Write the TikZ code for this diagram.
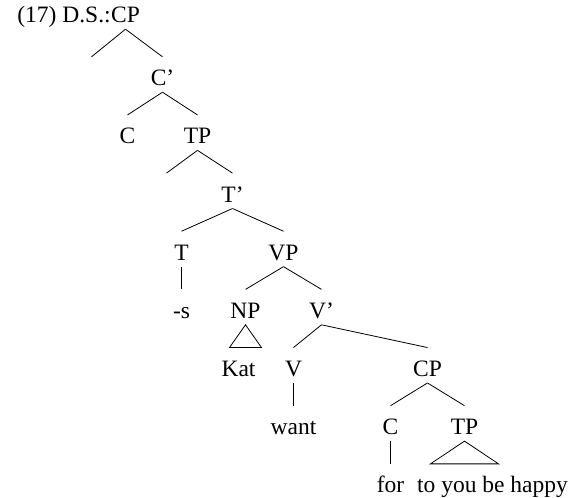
\documentclass[tikz,border=0pt]{standalone}
\usepackage{fontspec}
\setmainfont{Liberation Serif}
\usepackage{tikz}
\usetikzlibrary{calc}

\begin{document}
\begin{tikzpicture}[
    % 設定節點間的垂直距離
    level distance=58.15pt,
    % 為不同層級設定節點間的水平距離
    level 1/.style={sibling distance=68pt, level distance=63pt},
    level 2/.style={sibling distance=70pt, level distance=58.15pt},
    level 3/.style={sibling distance=66pt},
    level 4/.style={sibling distance=102pt},
    level 5/.style={sibling distance=76pt},
    level 6/.style={sibling distance=134pt},
    level 7/.style={sibling distance=74pt},
    % 為線條設定樣式
    parent anchor=south,
    child anchor=north,
    edge from parent/.style={draw, line width=0.8pt},
    % --- 定義節點樣式 ---
    % 詞類節點樣式
    cat/.style={
        inner sep=0pt,
        text height=28.75pt,
        text depth=6.25pt,
        font=\fontsize{23.5}{28}\selectfont
    },
    % 三角形(屋頂)樣式
    roof/.style={
        edge from parent path={
            (\tikzparentnode.south)
            -- ($(\tikzchildnode.north -| \tikzparentnode.south)+(-#1,0)$)
            -- ($(\tikzchildnode.north -| \tikzparentnode.south)+(#1,0)$)
            -- cycle
        }
    }
]

% 固定圖的邊界
\useasboundingbox (-125.5pt,11.5pt) rectangle (447.5pt,-486.5pt);

% --- 繪製樹狀結構 ---
% 根節點 CP
\node[cat, label={[cat]left:(17) D.S.:}] (cp) {CP}
    % 空的指示語
    child { node[cat] (cpspec) {} }
    child[xshift=3pt] {
        node[cat] (cbar) {C'}
        child { node[cat] (c) {C} }
        child {
            node[cat] (tp) {TP}
            child[xshift=2pt] { node[cat] (tpspec) {} }
            child[xshift=2pt] {
                node[cat] (tbar) {T'}
                child {
                    node[cat] (t) {T}
                    child { node[cat] (tense) {-s} }
                }
                child {
                    node[cat] (vp) {VP}
                    child {
                        node[cat] (np) {NP}
                        child[roof=16pt, xshift=-7pt] { node[cat] (kat) {Kat} }
                    }
                    child {
                        node[cat] (vbar) {V'}
                        child[xshift=39pt] {
                            node[cat] (v) {V}
                            child { node[cat] (want) {want} }
                        }
                        child[xshift=39pt] {
                            node[cat] (cpinner) {CP}
                            child {
                                node[cat] (cinner) {C}
                                child { node[cat] (for) {for} }
                            }
                            child {
                                node[cat] (tpinner) {TP}
                                child[roof=34pt, xshift=28pt] { node[cat] (clause) {to you be happy} }
                            }
                        }
                    }
                }
            }
        }
    };

\end{tikzpicture}
\end{document}
